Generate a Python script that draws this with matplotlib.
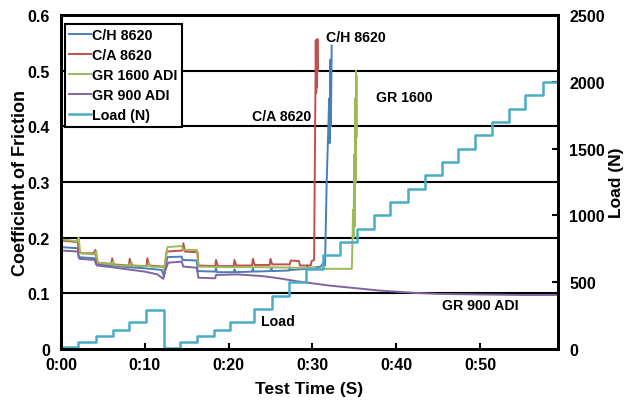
import matplotlib
matplotlib.use("Agg")
import matplotlib.pyplot as plt
from matplotlib.ticker import FuncFormatter

plt.rcParams['font.family'] = ['Liberation Sans', 'DejaVu Sans']
plt.rcParams['font.weight'] = 'bold'

# friction series (time in s, coefficient of friction)
ch_t = [0, 2.0, 2.1, 4.0, 4.2, 6, 8, 10, 12.0, 12.3, 12.5, 12.7, 14.4, 14.5, 16.2, 16.3,
        18.4, 18.5, 18.6, 20.6, 20.7, 20.8, 22.8, 22.9, 23.0, 25.0, 25.1, 25.2, 27.2, 27.3,
        27.4, 29.3, 29.4, 29.5, 31.0, 31.3, 31.5, 31.7, 32.0, 32.05, 32.15, 32.2, 32.3]
ch_v = [0.183, 0.181, 0.165, 0.163, 0.152, 0.150, 0.147, 0.145, 0.142, 0.130, 0.150, 0.165,
        0.166, 0.160, 0.159, 0.140, 0.139, 0.145, 0.138, 0.138, 0.143, 0.138, 0.139, 0.145,
        0.139, 0.140, 0.146, 0.140, 0.141, 0.147, 0.142, 0.144, 0.150, 0.145, 0.148, 0.155,
        0.150, 0.30, 0.45, 0.37, 0.52, 0.40, 0.545]

ca_t = [0, 1.9, 2.0, 2.1, 2.6, 3.9, 4.1, 4.3, 6.0, 6.1, 6.3, 8.1, 8.2, 8.4, 10.2, 10.3,
        10.5, 12.2, 12.4, 12.6, 14.5, 14.6, 14.8, 16.3, 16.4, 18.4, 18.5, 18.7, 20.6, 20.7,
        20.9, 22.8, 22.9, 23.1, 24.9, 25.0, 25.2, 27.3, 27.4, 28.4, 28.5, 29.8, 29.9, 30.2,
        30.4, 30.45, 30.5, 30.55, 30.6, 30.65]
ca_v = [0.195, 0.192, 0.198, 0.175, 0.172, 0.172, 0.178, 0.155, 0.153, 0.163, 0.152, 0.150,
        0.162, 0.150, 0.149, 0.163, 0.150, 0.148, 0.150, 0.175, 0.177, 0.190, 0.175, 0.174,
        0.150, 0.149, 0.160, 0.149, 0.149, 0.160, 0.150, 0.150, 0.162, 0.151, 0.151, 0.162,
        0.152, 0.152, 0.159, 0.158, 0.150, 0.150, 0.158, 0.160, 0.555, 0.46, 0.55, 0.47,
        0.557, 0.50]

gr1600_t = [0, 0.05, 2.0, 2.1, 2.3, 4.0, 4.2, 4.4, 6.0, 6.2, 6.4, 8.2, 8.4, 8.6, 10.3, 10.5,
            10.7, 12.2, 12.3, 12.5, 12.7, 14.4, 14.6, 16.2, 16.4, 20, 24, 28, 30.2, 30.6,
            34.7, 34.85, 34.9, 35.0, 35.05, 35.1, 35.15, 35.2, 35.25, 35.3]
gr1600_v = [0.40, 0.197, 0.193, 0.200, 0.172, 0.170, 0.176, 0.155, 0.152, 0.157, 0.150,
            0.150, 0.156, 0.149, 0.149, 0.155, 0.148, 0.147, 0.140, 0.165, 0.183, 0.185,
            0.178, 0.178, 0.148, 0.147, 0.147, 0.146, 0.146, 0.144, 0.144, 0.25, 0.20,
            0.35, 0.22, 0.45, 0.30, 0.50, 0.38, 0.49]

gr900_t = [0, 2.0, 2.2, 4.0, 4.3, 6, 8, 10, 11.5, 12.2, 12.4, 12.8, 14.4, 14.6, 16.2, 16.4,
           18.4, 18.5, 21, 24, 26, 28, 30, 32, 34, 36, 38, 40, 42, 45, 50, 55, 59.3]
gr900_v = [0.177, 0.175, 0.162, 0.160, 0.150, 0.147, 0.143, 0.139, 0.134, 0.126, 0.140,
           0.155, 0.157, 0.148, 0.146, 0.128, 0.127, 0.133, 0.134, 0.131, 0.127, 0.122,
           0.118, 0.114, 0.111, 0.108, 0.105, 0.103, 0.101, 0.099, 0.098, 0.097, 0.097]

# load steps (N)
load_t = [0, 2.05, 4.15, 6.15, 8.15, 10.2, 12.3, 14.2, 16.25, 18.2, 20.2, 23.0, 25.2,
          27.2, 29.2, 31.25, 33.3, 35.3, 37.3, 39.3, 41.35, 43.4, 45.4, 47.4, 49.4, 51.4,
          53.4, 55.4, 57.5, 59.3]
load_n = [12, 55, 100, 145, 200, 295, 8, 55, 100, 145, 200, 300, 400, 500, 600, 700, 800,
          900, 1000, 1100, 1200, 1300, 1400, 1500, 1600, 1700, 1800, 1900, 2000, 2000]

fig = plt.figure(figsize=(6.26, 4.02), dpi=100)
ax = fig.add_axes([61 / 626, 1 - 350 / 402, 497 / 626, 334 / 402])
ax2 = ax.twinx()

for g in [0.1, 0.2, 0.3, 0.4, 0.5]:
    ax.axhline(g, color='black', lw=1.5, zorder=0)

l1, = ax.plot(ch_t, ch_v, color='#4a7ebb', lw=1.4, label='C/H 8620')
l2, = ax.plot(ca_t, ca_v, color='#c0504d', lw=1.4, label='C/A 8620')
l3, = ax.plot(gr1600_t, gr1600_v, color='#9bbb59', lw=1.4, label='GR 1600 ADI')
l4, = ax.plot(gr900_t, gr900_v, color='#8064a2', lw=1.4, label='GR 900 ADI')
l5, = ax2.plot(load_t, load_n, color='#4bacc6', lw=1.8, drawstyle='steps-post', label='Load (N)')

ax.set_xlim(0, 59.3)
ax.set_ylim(0, 0.6)
ax2.set_ylim(0, 2500)
ax.set_xticks([0, 10, 20, 30, 40, 50])
ax.xaxis.set_major_formatter(FuncFormatter(lambda v, p: "0:%02d" % int(v)))
ax.set_yticks([0, 0.1, 0.2, 0.3, 0.4, 0.5, 0.6])
ax.set_yticklabels(['0', '0.1', '0.2', '0.3', '0.4', '0.5', '0.6'])
ax2.set_yticks([0, 500, 1000, 1500, 2000, 2500])

for a in (ax, ax2):
    for s in a.spines.values():
        s.set_linewidth(2)
ax.tick_params(axis='x', direction='in', length=4, width=1.5, labelsize=11.5, pad=6)
ax.tick_params(axis='y', length=0, labelsize=11.5, pad=8)
ax2.tick_params(axis='y', direction='in', length=4, width=1.5, labelsize=11.5, pad=8)

ax.set_xlabel('Test Time (S)', fontsize=12.5, fontweight='bold', labelpad=6)
ax.set_ylabel('Coefficient of Friction', fontsize=13, fontweight='bold', labelpad=-1)
ax2.set_ylabel('Load (N)', fontsize=12.5, fontweight='bold', labelpad=3)

ax.text(31.6, 0.56, 'C/H 8620', fontsize=10.2, fontweight='bold', va='center')
ax.text(29.8, 0.419, 'C/A 8620', fontsize=10.2, fontweight='bold', va='center', ha='right')
ax.text(37.6, 0.453, 'GR 1600', fontsize=10.2, fontweight='bold', va='center')
ax.text(45.4, 0.079, 'GR 900 ADI', fontsize=10.2, fontweight='bold', va='center')
ax.text(23.9, 0.05, 'Load', fontsize=10.2, fontweight='bold', va='center')

leg = ax.legend(handles=[l1, l2, l3, l4, l5], loc='upper left', bbox_to_anchor=(0.008, 0.973),
                borderaxespad=0, fancybox=False, framealpha=1, edgecolor='black',
                fontsize=10.3, handlelength=1.5, handletextpad=0.1, labelspacing=0.42,
                borderpad=0.3)
leg.get_frame().set_linewidth(1.5)
leg.set_zorder(10)

fig.savefig('out.png', dpi=100)
